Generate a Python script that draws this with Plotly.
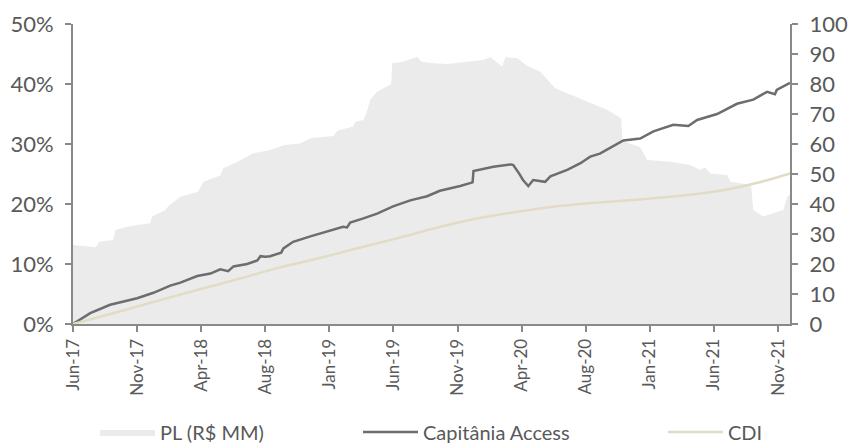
import pandas as pd
import plotly.graph_objects as go

# PL do fundo (R$ MM) - eixo direito
pl_dates = ["2017-06-21", "2017-08-12", "2017-08-19", "2017-09-20", "2017-09-25", "2017-10-29",
            "2017-12-13", "2017-12-17", "2018-01-16", "2018-01-23", "2018-02-19", "2018-03-31",
            "2018-04-12", "2018-05-20", "2018-05-27", "2018-06-28", "2018-08-03", "2018-09-10",
            "2018-10-12", "2018-11-17", "2018-12-10", "2019-01-31", "2019-02-09", "2019-03-17",
            "2019-03-22", "2019-04-09", "2019-04-18", "2019-04-24", "2019-05-10", "2019-06-02",
            "2019-06-11", "2019-06-13", "2019-07-08", "2019-08-09", "2019-08-18", "2019-09-14",
            "2019-10-16", "2019-11-30", "2020-01-05", "2020-01-21", "2020-02-06", "2020-02-17",
            "2020-02-24", "2020-03-22", "2020-04-14", "2020-05-13", "2020-06-16", "2020-07-27",
            "2020-09-03", "2020-10-12", "2020-11-12", "2020-11-15", "2020-12-25", "2021-01-10",
            "2021-03-03", "2021-04-17", "2021-05-10", "2021-05-21", "2021-06-02", "2021-07-10",
            "2021-07-17", "2021-09-02", "2021-09-07", "2021-09-29", "2021-11-14", "2021-11-23",
            "2021-11-29"]
pl_values = [26.3, 25.6, 27.4, 28.0, 31.3, 32.7,
             33.6, 35.8, 38.0, 39.3, 42.4, 44.1,
             47.4, 49.5, 51.9, 54.1, 56.9, 58.0,
             59.7, 60.2, 61.9, 62.7, 64.4, 65.8,
             67.4, 68.0, 71.3, 74.7, 77.4, 79.1,
             80.0, 86.9, 87.4, 89.1, 87.4, 86.9,
             86.7, 87.4, 88.0, 88.9, 86.9, 85.8,
             88.9, 88.6, 86.0, 84.1, 78.6, 76.0,
             73.6, 71.3, 68.6, 61.0, 59.0, 54.7,
             54.1, 53.0, 51.3, 52.2, 50.2, 49.7,
             47.4, 46.3, 38.0, 35.8, 38.0, 42.4,
             43.0]

# Capitânia Access, retorno acumulado (%)
cap_dates = ["2017-06-21", "2017-07-30", "2017-09-13", "2017-11-13", "2017-12-20", "2018-01-27",
             "2018-02-19", "2018-03-29", "2018-04-28", "2018-05-20", "2018-06-07", "2018-06-19",
             "2018-07-20", "2018-08-12", "2018-08-19", "2018-08-30", "2018-09-10", "2018-10-05",
             "2018-10-10", "2018-11-01", "2018-12-10", "2019-01-17", "2019-02-22", "2019-03-03",
             "2019-03-10", "2019-04-09", "2019-05-10", "2019-06-15", "2019-07-24", "2019-08-31",
             "2019-09-29", "2019-11-14", "2019-12-06", "2019-12-12", "2019-12-14", "2019-12-29",
             "2020-01-28", "2020-03-08", "2020-03-13", "2020-03-26", "2020-04-04", "2020-04-16",
             "2020-04-27", "2020-05-24", "2020-06-05", "2020-07-13", "2020-08-12", "2020-09-03",
             "2020-09-25", "2020-10-12", "2020-11-17", "2020-12-25", "2021-01-24", "2021-03-10",
             "2021-04-13", "2021-05-03", "2021-06-17", "2021-08-01", "2021-09-07", "2021-10-08",
             "2021-10-26", "2021-10-30", "2021-11-29"]
cap_values = [0.0, 1.8, 3.2, 4.3, 5.2, 6.4,
              6.9, 8.0, 8.4, 9.1, 8.8, 9.6,
              10.0, 10.6, 11.3, 11.2, 11.3, 11.9,
              12.6, 13.7, 14.6, 15.4, 16.2, 16.1,
              16.9, 17.6, 18.4, 19.6, 20.6, 21.3,
              22.2, 23.0, 23.4, 23.6, 25.5, 25.7,
              26.2, 26.6, 26.5, 25.1, 24.0, 23.0,
              24.0, 23.7, 24.6, 25.7, 26.8, 27.9,
              28.4, 29.1, 30.6, 30.9, 32.1, 33.2,
              33.0, 34.0, 35.0, 36.7, 37.4, 38.7,
              38.3, 39.0, 40.2]

# CDI acumulado (%)
cdi_dates = ["2017-06-21", "2017-09-30", "2017-12-31", "2018-03-31", "2018-06-30", "2018-09-30",
             "2018-12-31", "2019-03-31", "2019-06-30", "2019-09-30", "2019-12-31", "2020-03-31",
             "2020-06-30", "2020-09-30", "2020-12-31", "2021-03-31", "2021-06-30", "2021-09-30",
             "2021-11-29"]
cdi_values = [0.0, 2.0, 3.9, 5.7, 7.5, 9.4,
              11.0, 12.7, 14.4, 16.2, 17.7, 18.8,
              19.7, 20.3, 20.8, 21.4, 22.3, 23.8,
              25.1]

tick_dates = pd.date_range("2017-06-21", periods=12, freq="145D")
tick_labels = ["Jun-17", "Nov-17", "Apr-18", "Aug-18", "Jan-19", "Jun-19",
               "Nov-19", "Apr-20", "Aug-20", "Jan-21", "Jun-21", "Nov-21"]

txt = "#595959"
axc = "#898989"
font = "Lato"

fig = go.Figure()
fig.add_trace(go.Scatter(x=pl_dates, y=pl_values, name="PL (R$ MM)", mode="lines",
                         fill="tozeroy", fillcolor="#ebebeb", line=dict(width=0, color="#ebebeb"),
                         yaxis="y", legend="legend"))
fig.add_trace(go.Scatter(x=cap_dates, y=cap_values, name="Capitânia Access", mode="lines",
                         line=dict(color="#6d6d6d", width=2.5), yaxis="y2", legend="legend2"))
fig.add_trace(go.Scatter(x=cdi_dates, y=cdi_values, name="CDI", mode="lines",
                         line=dict(color="#e2dcc6", width=2.5, shape="spline"),
                         yaxis="y2", legend="legend3"))

axis_common = dict(showline=True, linecolor=axc, linewidth=2, ticks="outside", ticklen=6,
                   tickcolor=axc, tickwidth=2, showgrid=False, zeroline=False, automargin=False)

leg_common = dict(orientation="h", yref="container", y=0.025, yanchor="middle", xanchor="left",
                  xref="container", font=dict(size=20, color=txt), itemwidth=55)

fig.update_layout(
    width=850, height=443,
    margin=dict(l=73, r=60, t=24, b=119, autoexpand=False),
    plot_bgcolor="white", paper_bgcolor="white",
    font=dict(family=font, color=txt),
    xaxis=dict(type="date", range=["2017-06-21", "2021-11-29"],
               tickvals=tick_dates, ticktext=tick_labels, tickangle=-90,
               tickfont=dict(size=17, color=txt), **axis_common),
    yaxis=dict(side="right", range=[0, 100], dtick=10, tickfont=dict(size=22, color=txt),
               ticklabelstandoff=7, **axis_common),
    yaxis2=dict(overlaying="y", side="left", range=[0, 50], dtick=10, ticksuffix="%",
                tickfont=dict(size=22, color=txt), ticklabelstandoff=7, **axis_common),
    legend=dict(x=95 / 850, **leg_common),
    legend2=dict(x=358 / 850, **leg_common),
    legend3=dict(x=663 / 850, **leg_common),
    showlegend=True,
)

# page body has a default 8px margin; drop it so the figure fills the window
fig.write_html("out.html", config={"displayModeBar": False},
               post_script="document.body.style.margin='0';")
